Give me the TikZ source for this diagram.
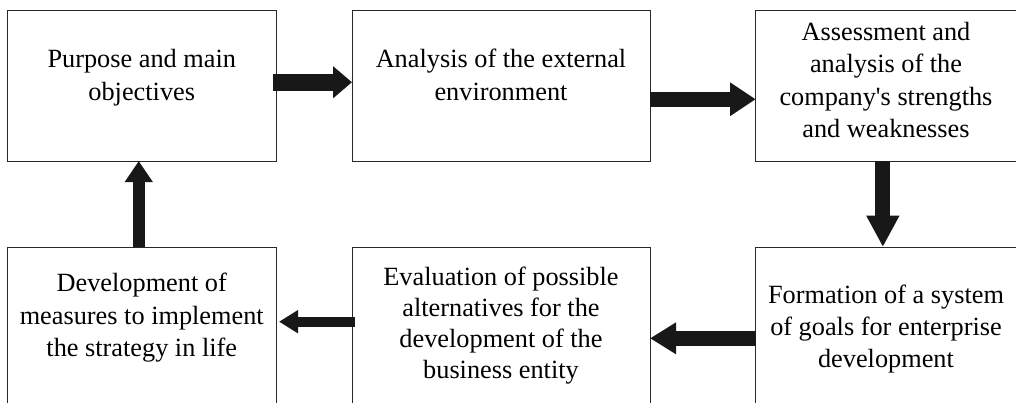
\documentclass[tikz,border=0pt]{standalone}
\usepackage{fontspec}
\setmainfont{Liberation Serif}
\usetikzlibrary{arrows.meta}
\definecolor{arrowc}{RGB}{24,24,24}
\definecolor{boxc}{RGB}{40,40,40}
\begin{document}
\begin{tikzpicture}[x=1pt,y=-1pt,
  box/.style={draw=boxc, line width=1pt, rectangle, inner sep=0pt, outer sep=0pt},
  txt/.style={align=center, inner sep=0pt, anchor=base, font=\fontsize{26.3}{32.5}\selectfont},
  blk/.style n args={3}{draw=arrowc, line width=#1pt, -{Triangle[length=#2pt,width=#3pt]}}]
\path[use as bounding box] (0,0) rectangle (1016,402);
\begin{scope}
\clip (0,0) rectangle (1016,402);
\node[box, minimum width=268.5pt, minimum height=150.5pt] (b1) at (141.75,85.75) {};
\node[box, minimum width=298pt, minimum height=150.5pt] (b2) at (501,85.75) {};
\node[box, minimum width=261.3pt, minimum height=150.5pt] (b3) at (886.35,85.75) {};
\node[box, minimum width=268.5pt, minimum height=176pt] (b4) at (141.75,335) {};
\node[box, minimum width=298pt, minimum height=176pt] (b5) at (501,335) {};
\node[box, minimum width=261.3pt, minimum height=176pt] (b6) at (886.35,335) {};
\end{scope}
\node[txt] (t1) at (141.75,100) {Purpose and main\\objectives};
\node[txt] (t2) at (501,100) {Analysis of the external\\environment};
\node[txt] (t3) at (886,137.5) {Assessment and\\analysis of the\\company\textquotesingle s strengths\\and weaknesses};
\node[txt] (t4) at (141.75,356.5) {Development of\\measures to implement\\the strategy in life};
\node[txt, font=\fontsize{26.3}{31}\selectfont] (t5) at (501,378) {Evaluation of possible\\alternatives for the\\development of the\\business entity};
\node[txt, font=\fontsize{26.3}{32}\selectfont] (t6) at (886,367) {Formation of a system\\of goals for enterprise\\development};
\draw[blk={16.5}{19}{31}] ([xshift=-3pt,yshift=3.5pt]b1.east) -- ([yshift=3.5pt]b2.west);
\draw[blk={15}{25.7}{32}] ([yshift=-13.5pt]b2.east) -- ([yshift=-13.5pt]b3.west);
\draw[blk={15}{31.5}{31}] ([xshift=-3.5pt]b3.south) -- ([xshift=-3.5pt]b6.north);
\draw[blk={15.3}{26}{30}] ([yshift=-3.3pt]b6.west) -- ([yshift=-3.3pt]b5.east);
\draw[blk={10}{19}{22}] ([xshift=3pt,yshift=13.3pt]b5.west) -- ([xshift=3pt,yshift=13.3pt]b4.east);
\draw[blk={12.3}{21}{26.7}] ([xshift=-3pt]b4.north) -- ([xshift=-3pt]b1.south);
\end{tikzpicture}
\end{document}
